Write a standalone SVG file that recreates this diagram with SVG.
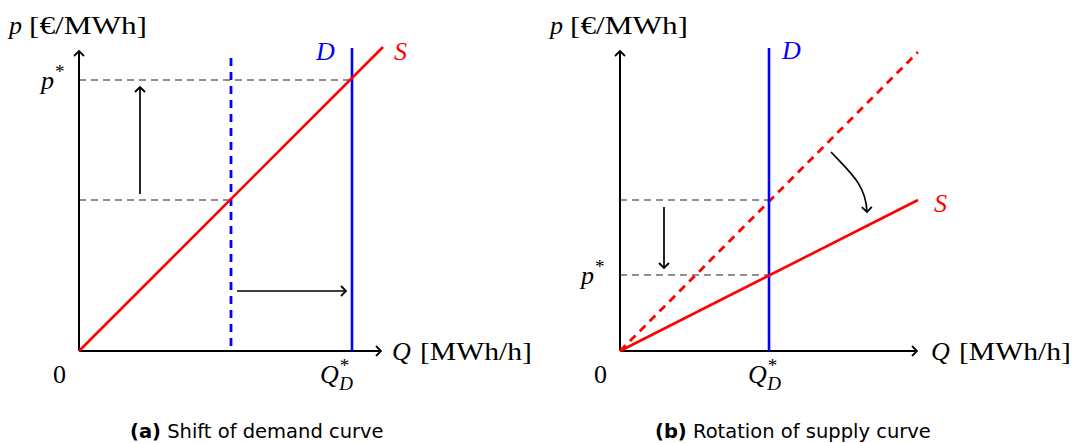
<svg xmlns="http://www.w3.org/2000/svg" width="1076" height="443" viewBox="0 0 1076 443">
<style>
.ax{stroke:#000;stroke-width:2;fill:none}
.dash{stroke:#222;stroke-width:1.1;stroke-dasharray:7,5;fill:none}
.red{stroke:#f00;stroke-width:2.6;fill:none}
.redd{stroke:#f00;stroke-width:2.8;fill:none;stroke-dasharray:8,6}
.blue{stroke:#00f;stroke-width:2.6;fill:none}
.blued{stroke:#00f;stroke-width:2.8;fill:none;stroke-dasharray:8,6}
.arr{stroke:#000;stroke-width:1.7;fill:none}
.m{font-family:"Liberation Serif",serif;font-size:26px;fill:#000}
.i{font-style:italic}
.sup{font-size:19px}
.sub{font-size:19px;font-style:italic}
.cap{font-family:"DejaVu Sans","Liberation Sans",sans-serif;font-size:19.5px;fill:#000}
</style>
<defs>
<marker id="ah" viewBox="-6 -6 8 12" markerWidth="8" markerHeight="12" refX="0" refY="0" orient="auto" markerUnits="userSpaceOnUse">
<path d="M-5,-5 Q-1,-1 0,0 Q-1,1 -5,5" fill="none" stroke="#000" stroke-width="1.8"/>
</marker>
</defs>
<g id="panel-a">
<g id="a-axes">
<line class="ax" x1="79" y1="351" x2="79" y2="51" marker-end="url(#ah)"/>
<line class="ax" x1="79" y1="351" x2="381" y2="351" marker-end="url(#ah)"/>
</g>
<g id="a-guides">
<line class="dash" x1="79" y1="80" x2="352" y2="80"/>
<line class="dash" x1="79" y1="200" x2="231" y2="200"/>
</g>
<g id="a-demand-old"><line class="blued" x1="231" y1="58" x2="231" y2="351"/></g>
<g id="a-demand"><line class="blue" x1="352" y1="48" x2="352" y2="351"/></g>
<g id="a-supply"><line class="red" x1="79" y1="351" x2="383" y2="47"/></g>
<g id="a-connectors">
<line class="arr" x1="140" y1="194" x2="140" y2="87" marker-end="url(#ah)"/>
<line class="arr" x1="237" y1="291" x2="346" y2="291" marker-end="url(#ah)"/>
</g>
<g id="a-labels">
<text class="m i" x="9" y="34">p</text>
<text class="m" x="29" y="34" textLength="118" lengthAdjust="spacingAndGlyphs">[€/MWh]</text>
<text class="m" x="41" y="89"><tspan class="i">p</tspan><tspan class="sup" dx="1" dy="-11">*</tspan></text>
<text class="m i" x="316" y="60" style="fill:#00f">D</text>
<text class="m i" x="394" y="60" style="fill:#f00">S</text>
<text class="m" x="53" y="383">0</text>
<text class="m i" x="392" y="360">Q</text>
<text class="m" x="420" y="360" textLength="112" lengthAdjust="spacingAndGlyphs">[MWh/h]</text>
<text class="m" x="320" y="383"><tspan class="i">Q</tspan><tspan class="sup" dx="1" dy="-11">*</tspan><tspan class="sub" dx="-10" dy="18">D</tspan></text>
<text class="cap" x="130" y="438"><tspan font-weight="bold">(a)</tspan> Shift of demand curve</text>
</g>
</g>
<g id="panel-b">
<g id="b-axes">
<line class="ax" x1="620" y1="351" x2="620" y2="51" marker-end="url(#ah)"/>
<line class="ax" x1="620" y1="351" x2="917" y2="351" marker-end="url(#ah)"/>
</g>
<g id="b-guides">
<line class="dash" x1="620" y1="200" x2="769" y2="200"/>
<line class="dash" x1="620" y1="275" x2="769" y2="275"/>
</g>
<g id="b-supply-old"><line class="redd" x1="620" y1="351" x2="918" y2="52"/></g>
<g id="b-demand"><line class="blue" x1="769" y1="48" x2="769" y2="351"/></g>
<g id="b-supply"><line class="red" x1="620" y1="351" x2="918" y2="200"/></g>
<g id="b-connectors">
<line class="arr" x1="664" y1="207" x2="664" y2="268" marker-end="url(#ah)"/>
<path class="arr" d="M831,152 C850,172 866,185 867,212" marker-end="url(#ah)"/>
</g>
<g id="b-labels">
<text class="m i" x="550" y="34">p</text>
<text class="m" x="570" y="34" textLength="118" lengthAdjust="spacingAndGlyphs">[€/MWh]</text>
<text class="m" x="581" y="284"><tspan class="i">p</tspan><tspan class="sup" dx="1" dy="-11">*</tspan></text>
<text class="m i" x="782" y="59" style="fill:#00f">D</text>
<text class="m i" x="934" y="212" style="fill:#f00">S</text>
<text class="m" x="594" y="383">0</text>
<text class="m i" x="931" y="360">Q</text>
<text class="m" x="959" y="360" textLength="112" lengthAdjust="spacingAndGlyphs">[MWh/h]</text>
<text class="m" x="748" y="383"><tspan class="i">Q</tspan><tspan class="sup" dx="1" dy="-11">*</tspan><tspan class="sub" dx="-10" dy="18">D</tspan></text>
<text class="cap" x="655" y="438"><tspan font-weight="bold">(b)</tspan> Rotation of supply curve</text>
</g>
</g>
</svg>
